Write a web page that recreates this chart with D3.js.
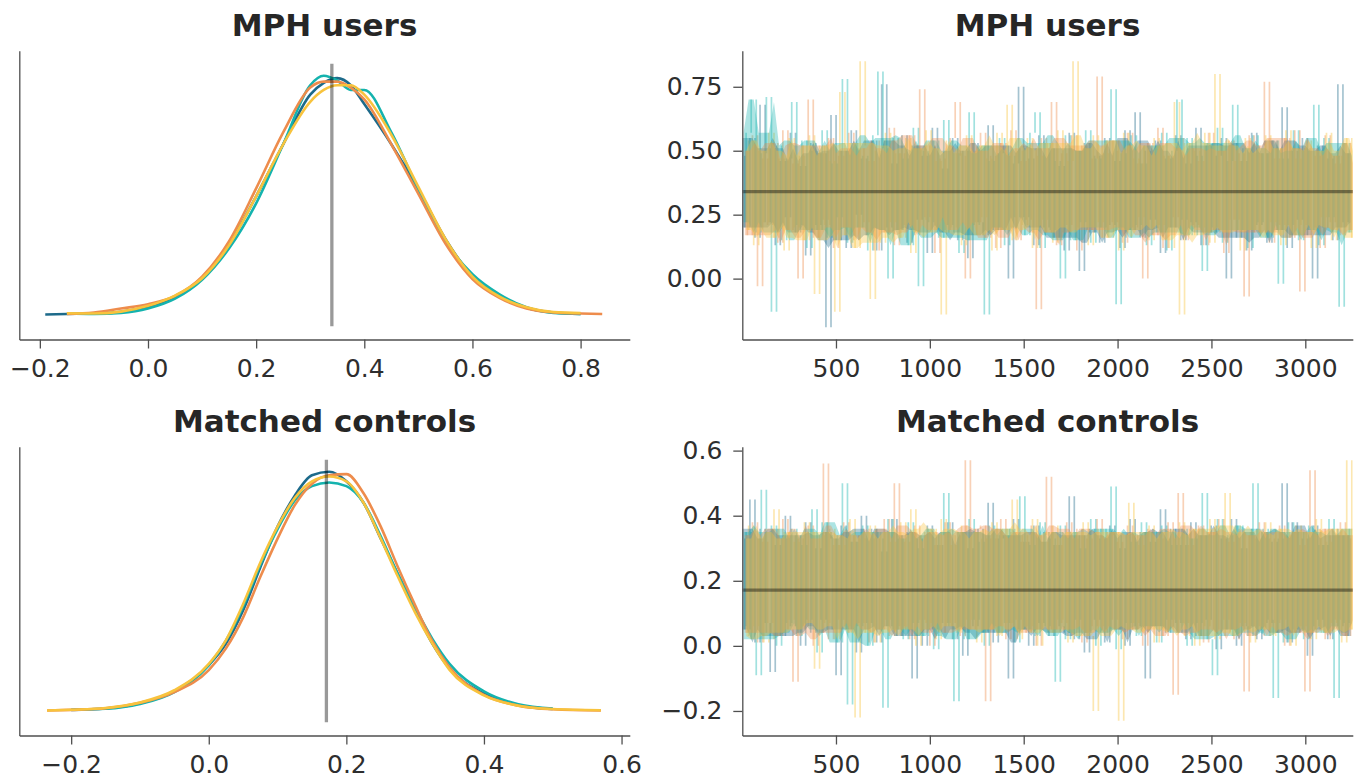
<!DOCTYPE html>
<html>
<head>
<meta charset="utf-8">
<script src="https://cdn.jsdelivr.net/npm/d3@7"></script>
<style>
  body { margin: 0; background: #fff; }
  svg { display: block; }
  text { font-family: "DejaVu Sans", sans-serif; }
</style>
</head>
<body>
<svg id="chart" width="1365" height="778"></svg>
<script>
// chain colours (chain 0..3)
const chainColors = ["#1d6a8a", "#14b3ae", "#ee8c4c", "#f8c33d"];

// ---- MPH users ----
const mphLimits = [-0.238, 0.891];
const mphRef = 0.34;
const mphKdeTicks = [-0.2, 0.0, 0.2, 0.4, 0.6, 0.8];
const mphTraceTicks = [0.0, 0.25, 0.5, 0.75];
const mphGrid = [-0.19, -0.15, -0.10, -0.05, 0.00, 0.05, 0.10, 0.15, 0.20, 0.25, 0.30, 0.325, 0.35, 0.375, 0.40, 0.45, 0.50, 0.55, 0.60, 0.65, 0.70, 0.75, 0.80, 0.84];
const mphKde0 = [0.0, 0.006, 0.012, 0.033, 0.1, 0.22, 0.46, 0.89, 1.5, 2.16, 2.79, 2.94, 3.0, 2.91, 2.67, 2.16, 1.59, 0.96, 0.48, 0.24, 0.084, 0.024, 0.006, null];
const mphKde1 = [null, 0.012, 0.006, 0.02, 0.075, 0.2, 0.44, 0.84, 1.41, 2.16, 2.91, 3.03, 2.97, 2.85, 2.85, 2.31, 1.59, 0.93, 0.51, 0.255, 0.09, 0.018, 0.006, null];
const mphKde2 = [null, 0.006, 0.024, 0.075, 0.13, 0.235, 0.48, 0.93, 1.6, 2.31, 2.88, 2.955, 2.955, 2.88, 2.73, 2.16, 1.53, 0.9, 0.45, 0.21, 0.075, 0.024, 0.012, 0.006];
const mphKde3 = [null, 0.015, 0.012, 0.036, 0.11, 0.24, 0.46, 0.88, 1.5, 2.16, 2.7, 2.85, 2.91, 2.91, 2.79, 2.28, 1.62, 0.96, 0.48, 0.225, 0.09, 0.03, 0.018, null];

// thinned draws: every 27th iteration, each chain starting a quarter step later
const firstDraw = 1, drawStep = 27, lastDraw = 3253;
const chainOffset = [0, 6.75, 13.5, 20.25];
const mphTrace0 = [0.48,0.20,0.55,0.16,0.68,0.22,0.51,0.13,0.46,0.24, 0.57,0.18,0.44,0.09,0.53,0.21,0.49,-0.19,0.64,0.15,
  0.50,0.12,0.58,0.25,0.47,0.17,0.54,0.11,0.76,0.20, 0.45,0.19,0.56,0.14,0.52,0.23,0.48,0.10,0.59,0.18,
  0.43,0.21,0.55,0.15,0.50,0.08,0.53,0.22,0.17,0.60, 0.19,0.49,0.52,0.00,0.45,0.75,0.24,0.47,0.13,0.56,
  0.20,0.51,0.16,0.44,0.11,0.57,0.50,0.03,0.53,0.18, 0.48,0.14,0.55,0.21,0.46,0.12,0.58,0.19,0.65,0.16,
  0.50,0.23,0.54,0.10,0.47,0.20,0.56,0.15,0.45,0.22, 0.59,0.13,0.52,0.18,0.48,0.55,0.00,0.53,0.16,0.46,
  0.11,0.57,0.21,0.49,0.14,0.54,0.19,0.67,0.12,0.50, 0.23,0.55,0.17,0.00,0.52,0.20,0.47,0.15,0.76,0.22,0.49];
const mphTrace1 = [0.22,0.57,0.70,0.18,0.49,0.71,-0.13,0.52,0.15,0.47, 0.69,0.21,0.54,0.12,0.50,0.19,0.58,0.16,0.45,0.24,
  0.78,0.14,0.53,0.20,0.48,0.11,0.56,0.81,0.51,0.00, 0.55,0.19,0.47,0.13,0.59,-0.03,0.50,0.22,0.54,0.16,
  0.62,0.18,0.49,0.10,0.15,0.65,0.21,0.52,-0.14,0.46, 0.20,0.55,0.13,0.48,0.24,0.51,0.17,0.57,0.65,0.12,
  0.53,0.19,0.46,0.00,0.56,0.15,0.50,0.22,0.58,0.14, 0.47,0.20,0.54,0.74,-0.10,0.49,0.16,0.56,0.21,0.45,
  0.13,0.52,0.18,0.57,0.11,0.50,0.70,0.23,0.55,0.17, 0.48,0.03,0.53,0.20,0.59,0.14,0.46,0.68,0.19,0.51,
  0.12,0.56,0.22,0.49,0.16,0.54,-0.02,0.47,0.21,0.58, 0.15,0.50,0.19,0.68,0.13,0.55,0.24,0.48,-0.11,0.53,0.18];
const mphTrace2 = [0.50,0.17,0.56,-0.03,0.47,0.21,0.53,0.14,0.58,0.19, 0.45,0.00,0.52,0.70,0.16,0.49,0.23,0.55,0.12,0.48,
  0.20,0.57,0.15,0.51,0.22,0.46,0.11,0.54,0.18,0.59, 0.13,0.49,0.21,0.56,0.17,0.74,0.24,0.52,0.10,0.47,
  0.19,0.55,0.69,0.48,0.00,0.50,0.22,0.57,0.16,0.48, 0.12,0.53,0.20,0.58,0.15,0.46,0.23,0.51,-0.12,0.55,
  0.18,0.69,0.13,0.49,0.21,0.56,0.11,0.52,0.19,0.47, 0.79,0.16,0.54,0.22,0.50,0.14,0.57,0.20,0.45,0.00,
  0.53,0.17,0.59,0.12,0.48,0.24,0.55,0.15,0.51,0.21, 0.46,0.13,0.57,0.19,0.50,0.10,0.54,0.23,0.49,-0.07,
  0.56,0.18,0.52,0.77,0.14,0.47,0.21,0.55,0.16,0.58, -0.05,0.51,0.20,0.48,0.12,0.56,0.22,0.45,0.17,0.53,0.19];
const mphTrace3 = [0.19,0.54,0.13,0.50,0.22,0.57,0.16,0.47,0.11,0.55, 0.20,0.48,0.15,0.56,-0.06,0.52,0.21,0.46,-0.13,0.73,
  0.17,0.53,0.12,0.85,0.52,-0.08,0.50,0.14,0.57,0.22, 0.49,0.16,0.55,0.10,0.51,0.23,0.58,0.18,0.46,-0.14,
  0.54,0.20,0.49,0.13,0.56,0.17,0.52,0.24,0.47,0.11, 0.57,0.19,0.68,0.15,0.50,0.21,0.55,0.12,0.48,0.23,
  0.53,0.14,0.58,0.18,0.46,0.85,0.20,0.51,0.13,0.56, 0.22,0.49,0.16,0.54,0.11,0.57,0.19,0.47,0.24,0.52,
  0.15,0.55,0.21,0.48,0.12,0.69,-0.14,0.53,0.17,0.50, 0.20,0.57,0.14,0.80,0.18,0.52,0.23,0.46,0.11,0.55,
  0.19,0.49,0.16,0.56,0.22,0.51,0.13,0.58,0.17,0.47, 0.21,0.54,0.12,0.50,0.24,0.57,0.15,0.48,0.20,0.55,0.16];

// ---- Matched controls ----
const ctrlLimits = [-0.2754, 0.612];
const ctrlRef = 0.171;
const ctrlKdeTicks = [-0.2, 0.0, 0.2, 0.4, 0.6];
const ctrlTraceTicks = [-0.2, 0.0, 0.2, 0.4, 0.6];
const ctrlGrid = [-0.235, -0.20, -0.15, -0.10, -0.05, 0.0, 0.025, 0.05, 0.075, 0.10, 0.125, 0.15, 0.175, 0.20, 0.225, 0.25, 0.275, 0.30, 0.325, 0.35, 0.40, 0.45, 0.50, 0.57];
const ctrlKde0 = [null, 0.008, 0.031, 0.117, 0.312, 0.741, 1.092, 1.638, 2.34, 3.003, 3.51, 3.842, 3.9, 3.744, 3.393, 2.808, 2.223, 1.638, 1.092, 0.683, 0.273, 0.086, 0.023, null];
const ctrlKde1 = [null, 0.012, 0.027, 0.105, 0.3, 0.74, 1.14, 1.7, 2.379, 2.964, 3.432, 3.666, 3.725, 3.666, 3.393, 2.847, 2.223, 1.677, 1.17, 0.761, 0.312, 0.101, 0.031, null];
const ctrlKde2 = [0.0, 0.01, 0.035, 0.125, 0.3, 0.66, 1.014, 1.521, 2.184, 2.808, 3.354, 3.705, 3.842, 3.861, 3.549, 3.003, 2.34, 1.716, 1.131, 0.702, 0.254, 0.078, 0.02, 0.0];
const ctrlKde3 = [0.0, 0.012, 0.04, 0.13, 0.33, 0.76, 1.15, 1.74, 2.418, 3.003, 3.471, 3.744, 3.822, 3.744, 3.393, 2.808, 2.184, 1.599, 1.092, 0.663, 0.246, 0.078, 0.023, 0.004];

const ctrlTrace0 = [0.33,0.05,0.45,0.01,0.36,0.07,-0.08,0.31,0.03,0.40, 0.06,0.34,0.00,0.38,0.04,0.30,0.08,0.35,0.33,-0.09,
  0.37,0.05,0.32,-0.02,0.40,0.07,0.36,0.01,0.29,0.06, 0.39,0.03,0.34,0.35,-0.10,0.33,0.00,0.37,0.05,0.31,
  0.07,0.38,0.02,0.35,-0.03,0.30,0.06,0.36,0.04,0.44, 0.01,0.33,0.34,-0.10,0.39,0.05,0.32,0.00,0.37,0.07,
  0.35,0.03,0.31,0.06,0.04,0.46,0.02,0.34,-0.02,0.36, 0.08,0.33,0.01,0.37,0.05,0.30,0.00,0.39,0.06,0.35,
  -0.10,0.32,0.06,0.42,0.04,0.36,0.07,0.31,0.02,0.38, 0.03,0.34,0.08,0.37,-0.01,0.33,0.05,0.39,0.00,0.30,
  0.06,0.36,0.02,0.35,0.07,0.32,0.04,0.50,0.01,0.38, 0.05,0.33,-0.03,0.37,0.08,0.31,0.02,0.36,0.06,0.34,0.03];
const ctrlTrace1 = [0.06,0.35,0.02,-0.09,0.48,0.04,0.37,0.00,0.33,0.07, 0.36,0.03,0.31,0.08,0.42,-0.02,0.38,0.05,0.34,0.01,
  0.50,-0.18,0.32,0.06,0.37,0.00,0.35,0.33,-0.19,0.39, 0.05,0.33,0.02,0.38,0.07,0.30,0.03,0.36,-0.01,0.34,
  0.47,0.06,-0.17,0.35,0.02,0.39,0.08,0.32,0.00,0.37, 0.04,0.34,0.07,0.36,0.01,0.46,0.05,0.31,0.03,0.38,
  0.06,0.33,-0.11,0.37,0.02,0.35,0.08,0.30,0.04,0.39, 0.00,0.36,0.05,0.49,-0.01,0.34,0.07,0.32,0.03,0.38,
  0.06,0.35,0.01,0.37,0.08,0.31,0.04,0.36,0.00,0.33, 0.07,0.47,0.02,-0.09,0.39,0.05,0.34,0.03,0.37,0.06,
  0.03,0.50,0.04,0.36,0.08,-0.16,0.33,0.01,0.38,0.05, 0.35,0.02,0.37,0.06,0.31,0.04,0.39,-0.16,0.34,0.07,0.36];
const ctrlTrace2 = [0.34,0.04,0.38,0.01,0.32,0.07,0.36,0.03,0.39,0.05, -0.11,0.33,0.06,0.37,0.00,0.04,0.56,0.02,0.31,0.08,
  0.38,0.04,0.34,0.07,0.36,0.01,0.33,0.05,0.39,0.03, 0.50,0.06,0.32,0.02,0.37,0.08,0.35,0.00,0.31,0.04,
  0.38,0.07,0.34,0.03,0.57,0.05,0.36,0.37,-0.17,0.33, 0.06,0.39,0.02,0.35,0.08,0.32,0.04,0.37,0.00,0.34,
  0.52,0.05,0.31,0.07,0.38,0.03,0.36,0.01,0.33,0.06, 0.39,0.04,0.35,0.08,0.32,0.02,0.37,0.05,0.34,0.00,
  0.36,0.06,0.33,0.03,0.38,-0.15,0.47,0.07,0.31,0.04, 0.37,0.01,0.35,0.05,0.39,0.08,0.32,0.02,0.36,-0.14,
  0.34,0.06,0.38,0.03,0.33,0.07,0.37,0.00,0.35,0.04, 0.31,-0.14,0.54,0.05,0.36,0.02,0.34,0.08,0.38,0.03,0.33];
const ctrlTrace3 = [0.03,0.37,0.06,0.33,0.01,0.02,0.42,0.04,0.35,0.08, 0.32,0.05,0.38,0.35,-0.07,0.34,0.07,0.36,0.02,0.31,
  0.06,0.39,-0.22,0.33,0.04,0.37,0.01,0.35,0.08,0.32, 0.03,0.38,0.05,0.42,0.00,0.34,0.07,0.36,0.02,0.39,
  0.06,0.31,0.04,0.37,0.08,0.35,0.01,0.33,0.05,0.38, 0.03,0.36,0.07,0.45,0.02,0.34,0.06,0.39,0.00,0.32,
  0.04,0.37,0.08,0.35,0.01,0.33,0.05,0.38,0.03,-0.20, 0.36,0.06,0.34,0.35,-0.23,0.05,0.44,0.07,0.31,0.04,
  0.37,0.01,0.35,0.05,0.33,0.08,0.38,0.03,0.36,0.00, 0.34,0.06,0.39,0.02,0.03,0.47,0.04,0.37,0.07,0.35,
  0.01,0.33,0.05,0.38,0.03,0.36,0.08,0.34,0.00,0.37, 0.06,0.35,0.02,0.39,0.04,0.32,0.07,0.36,0.01,0.57,0.05];

const panels = [
  { title: "MPH users", lim: mphLimits, ref: mphRef, grid: mphGrid,
    kde: [mphKde0, mphKde1, mphKde2, mphKde3], trace: [mphTrace0, mphTrace1, mphTrace2, mphTrace3],
    kdeTicks: mphKdeTicks, traceTicks: mphTraceTicks, yFmt: ".2f" },
  { title: "Matched controls", lim: ctrlLimits, ref: ctrlRef, grid: ctrlGrid,
    kde: [ctrlKde0, ctrlKde1, ctrlKde2, ctrlKde3], trace: [ctrlTrace0, ctrlTrace1, ctrlTrace2, ctrlTrace3],
    kdeTicks: ctrlKdeTicks, traceTicks: ctrlTraceTicks, yFmt: ".1f" }
];
const drawTicks = [500, 1000, 1500, 2000, 2500, 3000];

// layout
const axW = 610.5, axH = 288.8;
const colX = [19.3, 742.3];
const rowY = [50.7, 446.7];
const spineColor = "#4f4f4f", textColor = "#2e2e2e";

const svg = d3.select("#chart");
svg.append("rect").attr("width", 1365).attr("height", 778).attr("fill", "#fff");
svg.append("defs").append("clipPath").attr("id", "traceClip")
  .append("rect").attr("width", axW).attr("height", axH);

function styleAxis(g) {
  g.select(".domain").attr("stroke", spineColor).attr("stroke-width", 1.3);
  g.selectAll(".tick line").attr("stroke", spineColor).attr("stroke-width", 1.3);
  g.selectAll(".tick text").attr("fill", textColor).attr("font-size", "25px")
    .attr("font-family", "DejaVu Sans");
}

panels.forEach((p, r) => {
  // ---------- KDE (left) ----------
  const gk = svg.append("g").attr("transform", `translate(${colX[0]},${rowY[r]})`);
  const peak = d3.max(p.kde, arr => d3.max(arr));
  const xk = d3.scaleLinear().domain(p.lim).range([0, axW]);
  const yk = d3.scaleLinear().domain([-0.105 * peak, 1.105 * peak]).range([axH, 0]);

  const line = d3.line()
    .defined(d => d[1] !== null)
    .x(d => xk(d[0])).y(d => yk(d[1]))
    .curve(d3.curveMonotoneX);

  p.kde.forEach((dens, c) => {
    gk.append("path")
      .datum(p.grid.map((x, i) => [x, dens[i]]))
      .attr("fill", "none")
      .attr("stroke", chainColors[c])
      .attr("stroke-width", 2.6)
      .attr("d", line);
  });

  gk.append("line")
    .attr("x1", xk(p.ref)).attr("x2", xk(p.ref))
    .attr("y1", yk(-0.05 * peak)).attr("y2", yk(1.05 * peak))
    .attr("stroke", "#000").attr("stroke-opacity", 0.4).attr("stroke-width", 3.3);

  const kx = gk.append("g").attr("transform", `translate(0,${axH})`)
    .call(d3.axisBottom(xk).tickValues(p.kdeTicks).tickFormat(d3.format(".1f"))
      .tickSize(9).tickSizeOuter(0).tickPadding(11));
  styleAxis(kx);
  const ky = gk.append("g").call(d3.axisLeft(yk).tickValues([]).tickSizeOuter(0));
  styleAxis(ky);

  gk.append("text")
    .attr("x", axW / 2).attr("y", -14.5)
    .attr("text-anchor", "middle")
    .attr("font-size", "31px").attr("font-weight", "bold")
    .attr("fill", "#262626")
    .text(p.title);

  // ---------- trace (right) ----------
  const gt = svg.append("g").attr("transform", `translate(${colX[1]},${rowY[r]})`);
  const xt = d3.scaleLinear().domain([firstDraw, lastDraw]).range([0, axW]);
  const yt = d3.scaleLinear().domain(p.lim).range([axH, 0]);
  const traces = gt.append("g").attr("clip-path", "url(#traceClip)");

  // every step between successive thinned draws as the vertical stroke it makes
  p.trace.forEach((vals, c) => {
    const steps = d3.pairs(vals).map(([a, b], i) => ({
      it: firstDraw + chainOffset[c] + (i + 0.5) * drawStep,
      lo: Math.min(a, b), hi: Math.max(a, b)
    }));
    traces.append("g").selectAll("line").data(steps).join("line")
      .attr("x1", d => xt(d.it)).attr("x2", d => xt(d.it))
      .attr("y1", d => yt(d.lo)).attr("y2", d => yt(d.hi))
      .attr("stroke", chainColors[c])
      .attr("stroke-opacity", 0.4)
      .attr("stroke-width", 1.7);
  });

  // dense part of each chain: band of a 9-draw window with its two
  // lowest and two highest draws left out (so lone spikes stay outside)
  p.trace.forEach((vals, c) => {
    const band = vals.map((v, i) => {
      const w = vals.slice(Math.max(0, i - 4), i + 5).sort(d3.ascending);
      const cut = Math.floor(w.length / 4);
      return { it: firstDraw + chainOffset[c] + i * drawStep, lo: w[cut], hi: w[w.length - 1 - cut] };
    });
    traces.append("path")
      .datum(band)
      .attr("fill", chainColors[c])
      .attr("fill-opacity", 0.35)
      .attr("d", d3.area().x(d => xt(d.it)).y0(d => yt(d.lo)).y1(d => yt(d.hi)));
  });

  gt.append("line")
    .attr("x1", 0).attr("x2", axW)
    .attr("y1", yt(p.ref)).attr("y2", yt(p.ref))
    .attr("stroke", "#000").attr("stroke-opacity", 0.4).attr("stroke-width", 3.3);

  const tx = gt.append("g").attr("transform", `translate(0,${axH})`)
    .call(d3.axisBottom(xt).tickValues(drawTicks).tickFormat(d3.format("d"))
      .tickSize(9).tickSizeOuter(0).tickPadding(11));
  styleAxis(tx);
  const ty = gt.append("g")
    .call(d3.axisLeft(yt).tickValues(p.traceTicks).tickFormat(d3.format(p.yFmt))
      .tickSize(9).tickSizeOuter(0).tickPadding(11));
  styleAxis(ty);

  gt.append("text")
    .attr("x", axW / 2).attr("y", -14.5)
    .attr("text-anchor", "middle")
    .attr("font-size", "31px").attr("font-weight", "bold")
    .attr("fill", "#262626")
    .text(p.title);
});
</script>
</body>
</html>
